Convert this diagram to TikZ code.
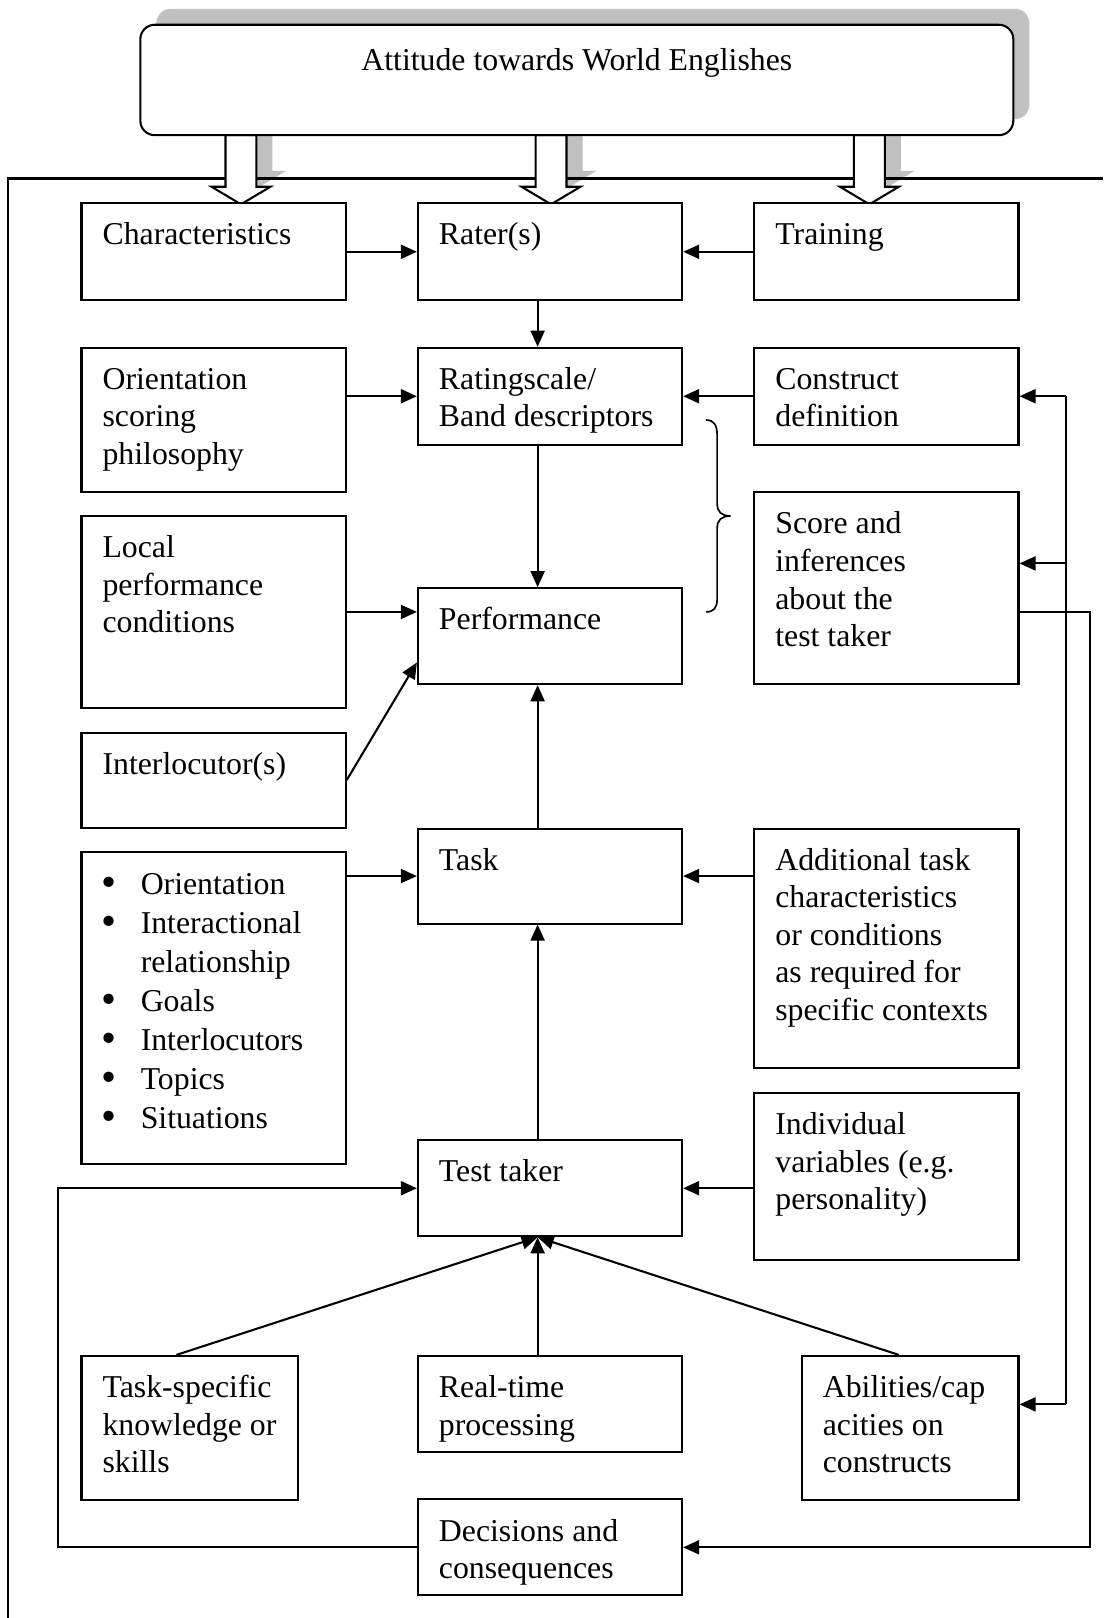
\documentclass[tikz,border=0pt]{standalone}
\usepackage{fontspec}
\setmainfont{Liberation Serif}
\usetikzlibrary{arrows.meta,calc,fit}
\definecolor{shadowgray}{RGB}{192,192,192}

% box with its text set at the top left corner
\newcommand\tbox[6]{%
  \node[box, fit={(#2,#3) (#4,#5)}] (#1) {};
  \node[txt] (#1-t) at (#2+20,#3+14.5) {\strut #6};}

% hollow block arrow hanging from the heading box, centred on x = #1
\newcommand\blockpath[3]{%
  (#1-15+#2,131+#3) -- (#1-15+#2,181+#3) -- (#1-28.5+#2,181+#3) -- (#1+#2,198+#3)
  -- (#1+28.5+#2,181+#3) -- (#1+15+#2,181+#3) -- (#1+15+#2,131+#3) -- cycle}

\begin{document}
\begin{tikzpicture}[x=0.5pt,y=-0.5pt,
  every node/.style={font=\fontsize{15.4}{18.2}\selectfont},
  box/.style={draw, line width=1pt, inner sep=0pt, fill=white},
  txt/.style={inner sep=0pt, anchor=north west, align=left},
  line/.style={line width=1pt},
  link/.style={line width=1pt, -{Triangle[length=7.8pt,width=6.8pt]}},
  blockarrow/.style={draw, line width=1pt, fill=white, line join=miter},
]
\useasboundingbox (0,0) rectangle (1069,1568);

% shadows of the heading box and its arrows
\fill[shadowgray, rounded corners=7pt] (151.5,8.5) rectangle (997.5,115.5);
\foreach \x in {233.5,534,842.5}
  \fill[shadowgray] \blockpath{\x}{15.5}{-15.5};

% outer frame
\draw[line] (1069,173) -- (8,173) -- (8,1568);

% block arrows
\foreach \x in {233.5,534,842.5}
  \draw[blockarrow] \blockpath{\x}{0}{0};

% heading
\node[box, rounded corners=7pt, fit={(136,24) (982,131)}] (head) {};
\node[inner sep=0pt, anchor=base] (head-t) at (559,68) {Attitude towards World Englishes};

% boxes
\tbox{char}{79}{197}{335}{291}{Characteristics}
\tbox{rater}{405}{197}{661}{291}{Rater(s)}
\tbox{train}{731}{197}{987}{291}{Training}
\tbox{orient}{79}{337}{335}{477}{Orientation\\scoring\\philosophy}
\tbox{scale}{405}{337}{661}{431}{Ratingscale/\\Band descriptors}
\tbox{construct}{731}{337}{987}{431}{Construct\\definition}
\tbox{local}{79}{500}{335}{686}{Local\\performance\\conditions}
\tbox{perf}{405}{570}{661}{663}{Performance}
\tbox{score}{731}{477}{987}{663}{Score and\\inferences\\about the\\test taker}
\tbox{inter}{79}{710}{335}{802}{Interlocutor(s)}
\tbox{task}{405}{803}{661}{895}{Task}
\tbox{add}{731}{803}{987}{1035}{Additional task\\characteristics\\or conditions\\as required for\\specific contexts}
\tbox{indiv}{731}{1059}{987}{1221}{Individual\\variables (e.g.\\personality)}
\tbox{tt}{405}{1105}{661}{1198}{Test taker}
\tbox{ts}{79}{1314}{289}{1454}{Task-specific\\knowledge or\\skills}
\tbox{rt}{405}{1314}{661}{1407}{Real-time\\processing}
\tbox{abil}{777}{1314}{987}{1454}{Abilities/cap\\acities on\\constructs}
\tbox{dec}{405}{1453}{661}{1546}{Decisions and\\consequences}

% bulleted list box
\node[box, fit={(79,826) (335,1128)}] (bul) {};
\newcommand\itm{\llap{\raisebox{-0.09em}{\scalebox{1.35}{\textbullet}}\hspace{11.8pt}}}
\node[txt, font=\fontsize{15.4}{18.9}\selectfont] (bul-t) at (136,839.5)
  {\strut\itm Orientation\\ \itm Interactional\\relationship\\ \itm Goals\\
   \itm Interlocutors\\ \itm Topics\\ \itm Situations};

% brace grouping the rating scale and performance
\draw[line width=0.8pt] (684,407) .. controls (692,407) and (695,412) .. (695,422)
  -- (695,488) .. controls (695,496) and (699,500) .. (708,500)
  .. controls (699,500) and (695,504) .. (695,512)
  -- (695,580) .. controls (695,589) and (692,593) .. (684,593);

% helper coordinates
\coordinate (spine) at (521,0);
\coordinate (busL) at (56,0);
\coordinate (busR) at (1033,0);
\coordinate (busO) at (1056,0);
\coordinate (scoreIn) at ([yshift=12pt]score.east);
\coordinate (scoreOut) at ([yshift=-11.5pt]score.east);
\coordinate (abilIn) at ([yshift=11.5pt]abil.east);
\coordinate (perfIn) at ([yshift=11pt]perf.south west);

% connectors
\draw[link] (char) -- (rater);
\draw[link] (train) -- (rater);
\draw[link] (rater.south -| spine) -- (scale.north -| spine);
\draw[link] (orient.east |- scale.west) -- (scale.west);
\draw[link] (construct) -- (scale);
\draw[link] (scale.south -| spine) -- (perf.north -| spine);
\draw[link] (local.east) -- (local.east -| perf.west);
\draw[link] (inter.east) -- (perfIn);
\draw[link] (task.north -| spine) -- (perf.south -| spine);
\draw[link] (bul.east |- task.west) -- (task.west);
\draw[link] (add.west |- task.east) -- (task.east);
\draw[link] (tt.north -| spine) -- (task.south -| spine);
\draw[link] (indiv.west |- tt.east) -- (tt.east);
\draw[link] (rt.north -| spine) -- (tt.south -| spine);
\draw[link] ([xshift=-6.5pt]ts.north) -- (tt.south -| spine);
\draw[link] ([xshift=-5.5pt]abil.north) -- (tt.south -| spine);

% feedback from decisions to the test taker
\draw[link] (dec.west) -- (dec.west -| busL) -- (tt.west -| busL) -- (tt.west);

% right-hand bus
\draw[line] (construct.east -| busR) -- (abilIn -| busR);
\draw[link] (construct.east -| busR) -- (construct.east);
\draw[link] (scoreIn -| busR) -- (scoreIn);
\draw[link] (abilIn -| busR) -- (abilIn);

% score feeds the decisions
\draw[link] (scoreOut) -- (scoreOut -| busO) -- (dec.east -| busO) -- (dec.east);
\end{tikzpicture}
\end{document}
